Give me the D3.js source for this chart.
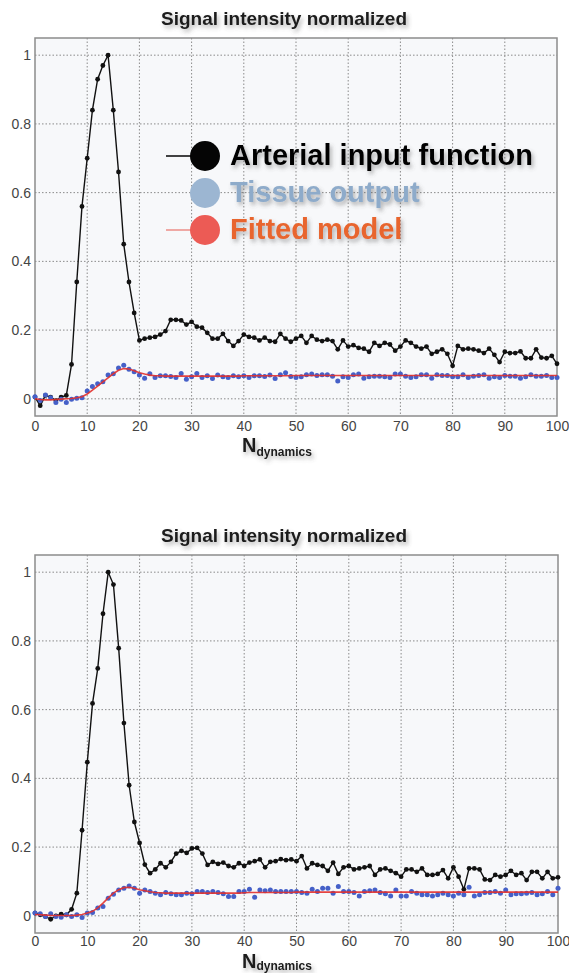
<!DOCTYPE html>
<html>
<head>
<meta charset="utf-8">
<script src="https://cdn.jsdelivr.net/npm/d3@7/dist/d3.min.js"></script>
<style>
  body { margin: 0; background: #fff; }
  #chart-area { width: 569px; height: 973px; }
  text { font-family: "Liberation Sans", Arial, Helvetica, sans-serif; }
</style>
</head>
<body>
<div id="chart-area"></div>
<script>

// ---- data (index 0..100 = dynamic number) ----

let xTicks = [0, 10, 20, 30, 40, 50, 60, 70, 80, 90, 100];
let yTicks = [0, 0.2, 0.4, 0.6, 0.8, 1];
let yTickLabels = ["0", "0.2", "0.4", "0.6", "0.8", "1"];

let titleText = "Signal intensity normalized";
let legendLabels = ["Arterial input function", "Tissue output", "Fitted model"];

// top panel
let topAif = [
  0.005, -0.020, 0.010, 0.005, -0.005, 0.005, 0.010, 0.100, 0.340, 0.560,
  0.700, 0.840, 0.930, 0.970, 1.000, 0.840, 0.660, 0.450, 0.340, 0.250,
  0.170, 0.175, 0.178, 0.180, 0.187, 0.197, 0.230, 0.230, 0.228, 0.216,
  0.224, 0.210, 0.207, 0.192, 0.175, 0.175, 0.189, 0.168, 0.154, 0.168,
  0.187, 0.180, 0.178, 0.170, 0.178, 0.168, 0.166, 0.189, 0.175, 0.166,
  0.175, 0.183, 0.163, 0.183, 0.172, 0.168, 0.172, 0.168, 0.144, 0.170,
  0.152, 0.156, 0.148, 0.146, 0.137, 0.163, 0.154, 0.163, 0.158, 0.140,
  0.152, 0.170, 0.163, 0.152, 0.146, 0.152, 0.131, 0.137, 0.144, 0.131,
  0.096, 0.154, 0.144, 0.146, 0.144, 0.140, 0.133, 0.146, 0.128, 0.107,
  0.137, 0.133, 0.133, 0.138, 0.118, 0.118, 0.144, 0.120, 0.118, 0.125, 0.102
];
let topTissue = [
  0.006, -0.005, 0.011, 0.003, -0.011, -0.001, -0.011, -0.001, 0.002, 0.003,
  0.023, 0.036, 0.044, 0.050, 0.069, 0.073, 0.090, 0.098, 0.086, 0.079,
  0.069, 0.060, 0.073, 0.062, 0.067, 0.067, 0.065, 0.062, 0.074, 0.057,
  0.064, 0.074, 0.062, 0.067, 0.059, 0.069, 0.064, 0.062, 0.067, 0.064,
  0.067, 0.062, 0.067, 0.067, 0.065, 0.069, 0.059, 0.070, 0.076, 0.065,
  0.062, 0.064, 0.070, 0.072, 0.068, 0.070, 0.070, 0.066, 0.052, 0.064,
  0.062, 0.070, 0.072, 0.060, 0.064, 0.066, 0.066, 0.064, 0.062, 0.072,
  0.072, 0.066, 0.062, 0.064, 0.070, 0.070, 0.060, 0.070, 0.068, 0.068,
  0.064, 0.064, 0.070, 0.062, 0.066, 0.068, 0.070, 0.060, 0.064, 0.062,
  0.068, 0.066, 0.066, 0.060, 0.064, 0.070, 0.066, 0.066, 0.068, 0.062, 0.062
];
let topFit = [
  0.000, -0.002, -0.003, -0.003, -0.002, -0.001, 0.000, 0.001, 0.003, 0.006,
  0.014, 0.025, 0.037, 0.049, 0.061, 0.073, 0.083, 0.088, 0.087, 0.082,
  0.076, 0.072, 0.069, 0.067, 0.067, 0.066, 0.066, 0.066, 0.066, 0.066,
  0.066, 0.066, 0.066, 0.066, 0.066, 0.066, 0.066, 0.066, 0.066, 0.066,
  0.067, 0.067, 0.067, 0.067, 0.067, 0.067, 0.067, 0.067, 0.067, 0.067,
  0.068, 0.068, 0.068, 0.068, 0.068, 0.068, 0.068, 0.068, 0.068, 0.068,
  0.068, 0.068, 0.068, 0.068, 0.068, 0.068, 0.068, 0.068, 0.068, 0.068,
  0.068, 0.068, 0.068, 0.068, 0.068, 0.068, 0.068, 0.068, 0.068, 0.068,
  0.068, 0.068, 0.068, 0.068, 0.068, 0.068, 0.068, 0.068, 0.068, 0.068,
  0.068, 0.068, 0.068, 0.068, 0.068, 0.068, 0.068, 0.068, 0.068, 0.068, 0.068
];

// bottom panel
let bottomAif = [
  0.008, 0.003, -0.002, -0.010, 0.000, 0.005, 0.003, 0.019, 0.066, 0.249,
  0.447, 0.618, 0.720, 0.879, 1.000, 0.964, 0.779, 0.561, 0.380, 0.273,
  0.212, 0.149, 0.124, 0.135, 0.153, 0.141, 0.157, 0.181, 0.189, 0.183,
  0.196, 0.198, 0.181, 0.148, 0.157, 0.151, 0.155, 0.145, 0.141, 0.153,
  0.145, 0.155, 0.159, 0.164, 0.141, 0.157, 0.159, 0.165, 0.162, 0.164,
  0.159, 0.174, 0.138, 0.153, 0.148, 0.145, 0.131, 0.155, 0.122, 0.141,
  0.145, 0.135, 0.138, 0.141, 0.145, 0.119, 0.135, 0.138, 0.131, 0.124,
  0.114, 0.135, 0.135, 0.128, 0.138, 0.119, 0.119, 0.122, 0.133, 0.109,
  0.141, 0.114, 0.077, 0.138, 0.138, 0.135, 0.106, 0.104, 0.119, 0.114,
  0.119, 0.131, 0.119, 0.124, 0.104, 0.128, 0.128, 0.109, 0.128, 0.109, 0.112
];
let bottomTissue = [
  0.008, 0.006, -0.002, 0.006, -0.002, -0.004, 0.003, -0.002, 0.003, -0.005,
  0.008, 0.010, 0.023, 0.027, 0.051, 0.063, 0.075, 0.080, 0.087, 0.080,
  0.066, 0.075, 0.071, 0.066, 0.061, 0.068, 0.064, 0.061, 0.061, 0.066,
  0.064, 0.071, 0.071, 0.068, 0.071, 0.068, 0.064, 0.056, 0.056, 0.071,
  0.071, 0.077, 0.054, 0.075, 0.073, 0.075, 0.071, 0.071, 0.071, 0.071,
  0.071, 0.068, 0.066, 0.077, 0.071, 0.080, 0.080, 0.066, 0.085, 0.071,
  0.071, 0.068, 0.058, 0.071, 0.073, 0.075, 0.068, 0.064, 0.058, 0.075,
  0.058, 0.058, 0.071, 0.066, 0.061, 0.061, 0.058, 0.061, 0.066, 0.061,
  0.058, 0.066, 0.061, 0.083, 0.058, 0.061, 0.068, 0.068, 0.071, 0.066,
  0.075, 0.061, 0.064, 0.064, 0.066, 0.068, 0.061, 0.064, 0.071, 0.061, 0.080
];
let bottomFit = [
  0.004, 0.003, 0.002, 0.001, 0.001, 0.001, 0.001, 0.001, 0.002, 0.004,
  0.008, 0.013, 0.023, 0.037, 0.052, 0.066, 0.076, 0.082, 0.083, 0.080,
  0.076, 0.073, 0.070, 0.068, 0.067, 0.066, 0.066, 0.066, 0.066, 0.066,
  0.066, 0.066, 0.066, 0.066, 0.066, 0.066, 0.066, 0.066, 0.066, 0.066,
  0.067, 0.068, 0.068, 0.068, 0.068, 0.068, 0.068, 0.068, 0.068, 0.068,
  0.069, 0.069, 0.069, 0.069, 0.069, 0.069, 0.069, 0.069, 0.069, 0.069,
  0.069, 0.069, 0.069, 0.069, 0.069, 0.069, 0.069, 0.069, 0.069, 0.069,
  0.069, 0.069, 0.069, 0.069, 0.069, 0.069, 0.069, 0.069, 0.069, 0.069,
  0.069, 0.069, 0.069, 0.069, 0.069, 0.069, 0.069, 0.069, 0.069, 0.069,
  0.069, 0.069, 0.069, 0.069, 0.069, 0.069, 0.069, 0.069, 0.069, 0.069, 0.069
];


class SignalChart {

  constructor(svg, box, aif, tissue, fit, showLegend) {
    this.svg = svg;
    this.box = box;
    this.aif = aif;
    this.tissue = tissue;
    this.fit = fit;
    this.showLegend = showLegend;
  }

  initVis() {
    let vis = this;
    let b = vis.box;

    vis.x = d3.scaleLinear().domain([0, 100]).range([b.left, b.right]);
    vis.y = d3.scaleLinear().domain([-0.05, 1.05]).range([b.bottom, b.top]);

    vis.g = vis.svg.append("g");

    // plot background + frame
    vis.g.append("rect")
      .attr("x", b.left).attr("y", b.top)
      .attr("width", b.right - b.left).attr("height", b.bottom - b.top)
      .attr("fill", "#f7f8fa");

    // dotted grid
    vis.g.append("g").selectAll("line")
      .data(xTicks.slice(1, -1))
      .enter().append("line")
      .attr("x1", d => vis.x(d)).attr("x2", d => vis.x(d))
      .attr("y1", b.top).attr("y2", b.bottom)
      .attr("stroke", "#8a8a8a").attr("stroke-width", 1)
      .attr("stroke-dasharray", "1.5,2");

    vis.g.append("g").selectAll("line")
      .data(yTicks)
      .enter().append("line")
      .attr("x1", b.left).attr("x2", b.right)
      .attr("y1", d => vis.y(d)).attr("y2", d => vis.y(d))
      .attr("stroke", "#8a8a8a").attr("stroke-width", 1)
      .attr("stroke-dasharray", "1.5,2");

    vis.g.append("rect")
      .attr("x", b.left).attr("y", b.top)
      .attr("width", b.right - b.left).attr("height", b.bottom - b.top)
      .attr("fill", "none").attr("stroke", "#8c8c8c").attr("stroke-width", 1.5);

    // axes (labels only, frame drawn above)
    let xAxis = d3.axisBottom(vis.x).tickValues(xTicks).tickSize(0).tickPadding(b.tickPad);
    vis.g.append("g")
      .attr("class", "x-axis axis")
      .attr("transform", "translate(0," + b.bottom + ")")
      .call(xAxis)
      .call(g => g.select(".domain").remove())
      .selectAll("text")
      .attr("font-size", 14).attr("fill", "#444");

    let yAxis = d3.axisLeft(vis.y).tickValues(yTicks)
      .tickFormat((d, i) => yTickLabels[i]).tickSize(0).tickPadding(4);
    vis.g.append("g")
      .attr("class", "y-axis axis")
      .attr("transform", "translate(" + b.left + ",0)")
      .call(yAxis)
      .call(g => g.select(".domain").remove())
      .selectAll("text")
      .attr("font-size", 14).attr("fill", "#444");

    vis.g.selectAll(".axis").attr("font-family", null);

    // title and x label
    vis.g.append("text")
      .attr("x", 284).attr("y", b.top - 13)
      .attr("text-anchor", "middle")
      .attr("font-size", 19).attr("font-weight", "bold")
      .attr("fill", "#1a1a1a")
      .attr("filter", "url(#soft-shadow)")
      .text(titleText);

    let xl = vis.g.append("text")
      .attr("x", 242).attr("y", b.bottom + b.labelGap)
      .attr("font-weight", "bold").attr("fill", "#1a1a1a")
      .attr("filter", "url(#soft-shadow)");
    xl.append("tspan").attr("font-size", 20).text("N");
    xl.append("tspan").attr("font-size", 12).attr("dy", b.subDy).text("dynamics");

    vis.updateVis();
  }

  updateVis() {
    let vis = this;

    // arterial input function
    let line = d3.line()
      .x((d, i) => vis.x(i))
      .y(d => vis.y(d));

    vis.g.append("path")
      .datum(vis.aif)
      .attr("d", line)
      .attr("fill", "none").attr("stroke", "#111").attr("stroke-width", 1.4);

    vis.g.append("g").selectAll("circle")
      .data(vis.aif)
      .enter().append("circle")
      .attr("cx", (d, i) => vis.x(i)).attr("cy", d => vis.y(d))
      .attr("r", 2.4).attr("fill", "#111");

    // tissue output
    vis.g.append("g").selectAll("circle")
      .data(vis.tissue)
      .enter().append("circle")
      .attr("cx", (d, i) => vis.x(i)).attr("cy", d => vis.y(d))
      .attr("r", 2.5).attr("fill", "#4560c8");

    // fitted model
    vis.g.append("path")
      .datum(vis.fit)
      .attr("d", line)
      .attr("fill", "none").attr("stroke", "#e2302c").attr("stroke-width", 1.6)
      .attr("stroke-opacity", 0.9);

    if (vis.showLegend) vis.drawLegend();
  }

  drawLegend() {
    let vis = this;
    let rows = [
      { y: 156, circle: "#050505", text: "#050505", line: "#050505" },
      { y: 193, circle: "#9cb6d2", text: "#8eabca", line: null },
      { y: 230, circle: "#ec5b55", text: "#e8652e", line: "#e8584f" }
    ];

    let lg = vis.g.append("g").attr("class", "legend");

    rows.forEach((r, i) => {
      if (r.line) {
        lg.append("line")
          .attr("x1", 166).attr("x2", 200).attr("y1", r.y).attr("y2", r.y)
          .attr("stroke", r.line).attr("stroke-width", i == 0 ? 1.6 : 1.2);
      }
      lg.append("circle")
        .attr("cx", 205).attr("cy", r.y).attr("r", 15)
        .attr("fill", r.circle);
      lg.append("text")
        .attr("x", 230).attr("y", r.y + 9)
        .attr("font-size", 29).attr("font-weight", "bold")
        .attr("fill", r.text)
        .attr("filter", "url(#soft-shadow)")
        .text(legendLabels[i]);
    });
  }
}


let svg = d3.select("#chart-area").append("svg")
  .attr("width", 569)
  .attr("height", 973);

let defs = svg.append("defs");
defs.append("filter")
  .attr("id", "soft-shadow")
  .attr("x", "-10%").attr("y", "-30%").attr("width", "130%").attr("height", "180%")
  .append("feDropShadow")
  .attr("dx", 2).attr("dy", 3).attr("stdDeviation", 2)
  .attr("flood-color", "#555").attr("flood-opacity", 0.45);

let topChart = new SignalChart(svg,
  { left: 35, right: 557, top: 38, bottom: 416, tickPad: 5, labelGap: 36, subDy: 4 },
  topAif, topTissue, topFit, true);
topChart.initVis();

let bottomChart = new SignalChart(svg,
  { left: 35, right: 558, top: 555, bottom: 933, tickPad: 3, labelGap: 35, subDy: 2 },
  bottomAif, bottomTissue, bottomFit, false);
bottomChart.initVis();

</script>
</body>
</html>
